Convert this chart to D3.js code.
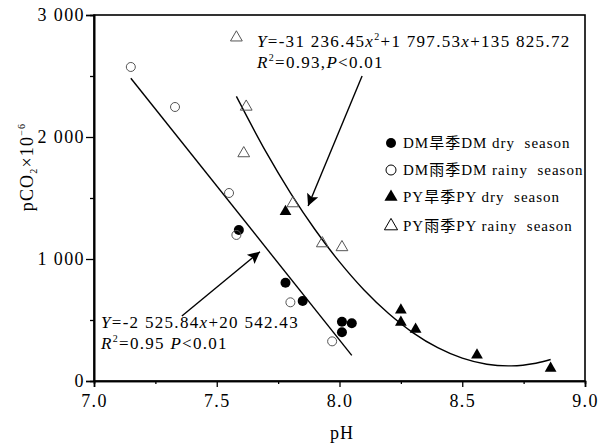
<!DOCTYPE html>
<html><head><meta charset="utf-8">
<script src="https://cdn.jsdelivr.net/npm/d3@7"></script>
<style>
body{margin:0;background:#fff;}
svg text{font-family:"Liberation Serif","Times New Roman",serif;fill:#000;}
</style></head>
<body><svg id="c" width="605" height="447"></svg>
<script>
// ---- data ----
const dmDryPH    = [7.59, 7.78, 7.85, 8.01, 8.05, 8.01];
const dmDryPCO2  = [1238, 806, 656, 486, 473, 399];
const dmRainyPH   = [7.15, 7.33, 7.55, 7.58, 7.80, 7.97];
const dmRainyPCO2 = [2574, 2246, 1541, 1197, 645, 325];
const pyDryPH    = [7.78, 8.25, 8.25, 8.31, 8.56, 8.86];
const pyDryPCO2  = [1388, 582, 481, 424, 213, 104];
const pyRainyPH   = [7.58, 7.62, 7.61, 7.81, 7.93, 8.01];
const pyRainyPCO2 = [2815, 2248, 1866, 1456, 1128, 1096];
// fitted lines as drawn
const linFitPH   = [7.15, 8.05];
const linFitPCO2 = [2482, 210];
const quadFitPH   = [7.58, 7.7, 7.8, 7.9, 8.0, 8.1, 8.2, 8.3, 8.4, 8.5, 8.6, 8.7, 8.8, 8.86];
const quadFitPCO2 = [2333, 1880, 1543, 1242, 976, 746, 553, 395, 273, 187, 137, 124, 146, 176];
const xTickValues = [7.0, 7.5, 8.0, 8.5, 9.0];
const xTickLabels = ["7.0", "7.5", "8.0", "8.5", "9.0"];
const yTickValues = [0, 1000, 2000, 3000];
const yTickLabels = ["0", "1 000", "2 000", "3 000"];
const legendLabels = ["DM旱季DM dry  season", "DM雨季DM rainy  season", "PY旱季PY dry  season", "PY雨季PY rainy  season"];

const svg = d3.select("#c");
const x = d3.scaleLinear().domain([7, 9]).range([94, 585]);
const y = d3.scaleLinear().domain([0, 3000]).range([381, 15]);

// frame
svg.append("rect").attr("x", 94).attr("y", 15).attr("width", 491).attr("height", 366)
  .attr("fill", "none").attr("stroke", "#000").attr("stroke-width", 1.6);

// axes
const fontStyle = g => g.selectAll("text").attr("font-size", 18).attr("letter-spacing", "1.4px")
  .style("font-family", "'Liberation Serif',serif").attr("fill", "#000");
const xAx = svg.append("g").attr("transform", "translate(0,381)")
  .call(d3.axisBottom(x).tickValues(xTickValues).tickSize(6).tickPadding(7)
    .tickFormat((d, i) => xTickLabels[i]));
xAx.call(fontStyle);
svg.append("g").attr("transform", "translate(0,381)")
  .call(d3.axisBottom(x).tickValues([7.25, 7.75, 8.25, 8.75]).tickSize(3).tickFormat(""));
const yAx = svg.append("g").attr("transform", "translate(94,0)")
  .call(d3.axisLeft(y).tickValues(yTickValues).tickSize(8).tickPadding(1)
    .tickFormat((d, i) => yTickLabels[i]));
yAx.call(fontStyle);
svg.append("g").attr("transform", "translate(94,0)")
  .call(d3.axisLeft(y).tickValues([500, 1500, 2500]).tickSize(4).tickFormat(""));
svg.selectAll(".domain").attr("stroke-width", 1.6);
svg.selectAll(".tick line").attr("stroke-width", 1.3);

// axis titles
svg.append("text").attr("x", 342).attr("y", 439).attr("text-anchor", "middle")
  .attr("font-size", 18).attr("letter-spacing", "1px").text("pH");
const yt = svg.append("text").attr("transform", "translate(33,167) rotate(-90)")
  .attr("text-anchor", "middle").attr("font-size", 18).attr("letter-spacing", "1.2px");
yt.append("tspan").text("pCO");
yt.append("tspan").attr("font-size", 10).attr("dy", 4).text("2");
yt.append("tspan").attr("dy", -4).text("×10");
yt.append("tspan").attr("font-size", 10).attr("dy", -8).text("−6");

// fitted lines
const line = d3.line().x(d => x(d[0])).y(d => y(d[1]));
svg.append("path").datum(linFitPH.map((p, i) => [p, linFitPCO2[i]]))
  .attr("d", line).attr("fill", "none").attr("stroke", "#000").attr("stroke-width", 1.4);
svg.append("path").datum(quadFitPH.map((p, i) => [p, quadFitPCO2[i]]))
  .attr("d", line.curve(d3.curveCatmullRom)).attr("fill", "none").attr("stroke", "#000").attr("stroke-width", 1.4);

// markers
const tri = d3.symbol().type(d3.symbolTriangle).size(60);
function pts(ph, pc) { return ph.map((p, i) => [p, pc[i]]); }
svg.append("g").selectAll("circle").data(pts(dmDryPH, dmDryPCO2)).join("circle")
  .attr("cx", d => x(d[0])).attr("cy", d => y(d[1])).attr("r", 5).attr("fill", "#000");
svg.append("g").selectAll("circle").data(pts(dmRainyPH, dmRainyPCO2)).join("circle")
  .attr("cx", d => x(d[0])).attr("cy", d => y(d[1])).attr("r", 4.5)
  .attr("fill", "#fff").attr("fill-opacity", 0).attr("stroke", "#555").attr("stroke-width", 1);
svg.append("g").selectAll("path").data(pts(pyDryPH, pyDryPCO2)).join("path")
  .attr("transform", d => `translate(${x(d[0])},${y(d[1])})`).attr("d", tri).attr("fill", "#000");
svg.append("g").selectAll("path").data(pts(pyRainyPH, pyRainyPCO2)).join("path")
  .attr("transform", d => `translate(${x(d[0])},${y(d[1])})`).attr("d", tri)
  .attr("fill", "none").attr("stroke", "#555").attr("stroke-width", 1);

// arrows
const defs = svg.append("defs");
defs.append("marker").attr("id", "ah").attr("viewBox", "0 0 10 10").attr("refX", 10).attr("refY", 5)
  .attr("markerWidth", 14).attr("markerHeight", 12).attr("markerUnits", "userSpaceOnUse")
  .attr("orient", "auto").append("path").attr("d", "M0,0 L10,5 L0,10 L2,5 Z").attr("fill", "#000");
const arrows = [[[8.092, 2500], [7.872, 1434]], [[7.358, 533], [7.676, 1060]]];
svg.append("g").selectAll("line").data(arrows).join("line")
  .attr("x1", d => x(d[0][0])).attr("y1", d => y(d[0][1]))
  .attr("x2", d => x(d[1][0])).attr("y2", d => y(d[1][1]))
  .attr("stroke", "#000").attr("stroke-width", 1.4).attr("marker-end", "url(#ah)");

// equations
function eq(xp, yp, parts) {
  const t = svg.append("text").attr("x", xp).attr("y", yp).attr("font-size", 17).attr("letter-spacing", "1.3px");
  let shift = 0;
  parts.forEach(p => {
    const s = t.append("tspan").text(p.t);
    if (p.i) s.attr("font-style", "italic");
    if (p.sup) { s.attr("font-size", 10).attr("dy", -7); shift = 7; }
    else if (shift) { s.attr("dy", shift); shift = 0; }
  });
}
eq(257, 47, [{t: "Y", i: 1}, {t: "=-31 236.45"}, {t: "x", i: 1}, {t: "2", sup: 1}, {t: "+1 797.53"}, {t: "x", i: 1}, {t: "+135 825.72"}]);
eq(257, 68, [{t: "R", i: 1}, {t: "2", sup: 1}, {t: "=0.93,"}, {t: "P", i: 1}, {t: "<0.01"}]);
eq(101, 328, [{t: "Y", i: 1}, {t: "=-2 525.84"}, {t: "x", i: 1}, {t: "+20 542.43"}]);
eq(101, 349, [{t: "R", i: 1}, {t: "2", sup: 1}, {t: "=0.95 "}, {t: "P", i: 1}, {t: "<0.01"}]);

// legend
const lg = svg.append("g");
const ly = [143, 170, 197, 226];
lg.append("circle").attr("cx", 391).attr("cy", ly[0]).attr("r", 5).attr("fill", "#000");
lg.append("circle").attr("cx", 391).attr("cy", ly[1]).attr("r", 5).attr("fill", "none").attr("stroke", "#000").attr("stroke-width", 1);
lg.append("path").attr("transform", `translate(391,${ly[2]})`).attr("d", d3.symbol().type(d3.symbolTriangle).size(75)).attr("fill", "#000");
lg.append("path").attr("transform", `translate(391,${ly[3]})`).attr("d", d3.symbol().type(d3.symbolTriangle).size(75)).attr("fill", "none").attr("stroke", "#000").attr("stroke-width", 1);
lg.selectAll("text").data(legendLabels).join("text")
  .attr("x", 403).attr("y", (d, i) => ly[i] + 5).attr("font-size", 15).attr("letter-spacing", "1px")
  .style("white-space", "pre").attr("xml:space", "preserve")
  .style("font-family", "'Liberation Serif','Noto Sans CJK SC',serif").text(d => d);
</script></body></html>
